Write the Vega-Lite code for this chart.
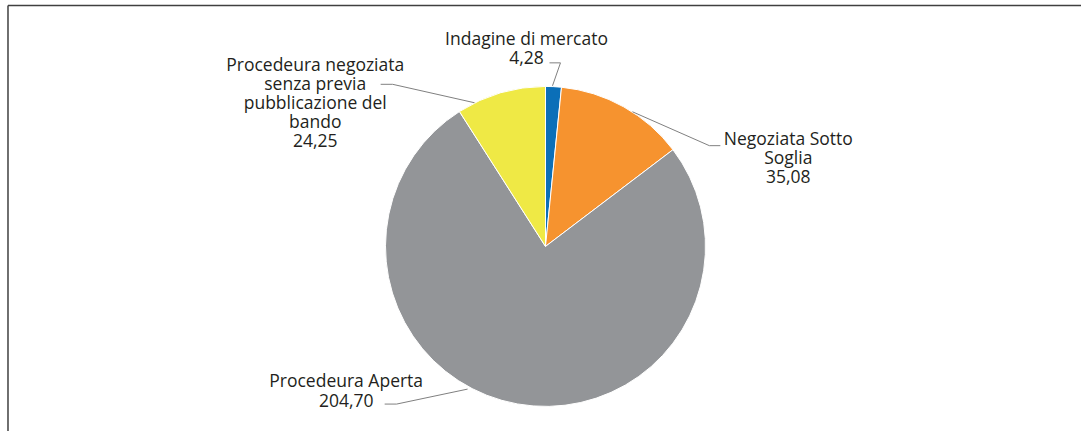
{
  "$schema": "https://vega.github.io/schema/vega-lite/v6.json",
  "autosize": {"type": "fit", "contains": "padding"},
  "width": 1082,
  "height": 432,
  "padding": 0,
  "background": "white",
  "config": {"view": {"stroke": null}},
  "data": {
    "values": [
      {"ordine": 1, "categoria": "Indagine di mercato", "valore": 4.28, "etichetta": "Indagine di mercato\n4,28"},
      {"ordine": 2, "categoria": "Negoziata Sotto Soglia", "valore": 35.08, "etichetta": "Negoziata Sotto\nSoglia\n35,08"},
      {"ordine": 3, "categoria": "Procedeura Aperta", "valore": 204.70, "etichetta": "Procedeura Aperta\n204,70"},
      {"ordine": 4, "categoria": "Procedeura negoziata senza previa pubblicazione del bando", "valore": 24.25, "etichetta": "Procedeura negoziata\nsenza previa\npubblicazione del\nbando\n24,25"}
    ]
  },
  "layer": [
    {
      "mark": {"type": "arc", "outerRadius": 160, "stroke": "white", "strokeWidth": 1},
      "encoding": {
        "x": {"datum": 0, "type": "quantitative", "scale": {"domain": [-3.4125, 3.35], "nice": false, "zero": false}, "axis": null},
        "y": {"datum": 0, "type": "quantitative", "scale": {"domain": [-1.15625, 1.54375], "nice": false, "zero": false}, "axis": null},
        "theta": {"field": "valore", "type": "quantitative", "stack": true},
        "order": {"field": "ordine", "type": "quantitative"},
        "color": {
          "field": "categoria", "type": "nominal", "legend": null,
          "scale": {
            "domain": ["Indagine di mercato", "Negoziata Sotto Soglia", "Procedeura Aperta", "Procedeura negoziata senza previa pubblicazione del bando"],
            "range": ["#0b6fb8", "#f6932f", "#939598", "#efe945"]
          }
        }
      }
    },
    {
      "transform": [{"filter": "datum.ordine == 1"}],
      "mark": {"type": "rule", "stroke": "#404040", "strokeWidth": 1.5},
      "encoding": {
        "x": {"datum": -3.3625, "type": "quantitative"},
        "x2": {"datum": 3.35},
        "y": {"datum": 1.509375, "type": "quantitative"}
      }
    },
    {
      "transform": [{"filter": "datum.ordine == 1"}],
      "mark": {"type": "rule", "stroke": "#404040", "strokeWidth": 1.5},
      "encoding": {
        "x": {"datum": -3.3625, "type": "quantitative"},
        "y": {"datum": 1.509375, "type": "quantitative"},
        "y2": {"datum": -1.15625}
      }
    },
    {
      "transform": [{"filter": "datum.ordine == 1"}],
      "mark": {"type": "rule", "stroke": "#808080", "strokeWidth": 1},
      "encoding": {
        "x": {"datum": 0.025, "type": "quantitative"}, "x2": {"datum": 0.09375},
        "y": {"datum": 1.15, "type": "quantitative"}, "y2": {"datum": 1.15}
      }
    },
    {
      "transform": [{"filter": "datum.ordine == 1"}],
      "mark": {"type": "rule", "stroke": "#808080", "strokeWidth": 1},
      "encoding": {
        "x": {"datum": 0.09375, "type": "quantitative"}, "x2": {"datum": 0.04375},
        "y": {"datum": 1.15, "type": "quantitative"}, "y2": {"datum": 1.00625}
      }
    },
    {
      "transform": [{"filter": "datum.ordine == 2"}],
      "mark": {"type": "rule", "stroke": "#808080", "strokeWidth": 1},
      "encoding": {
        "x": {"datum": 0.54375, "type": "quantitative"}, "x2": {"datum": 1.025},
        "y": {"datum": 0.84375, "type": "quantitative"}, "y2": {"datum": 0.63125}
      }
    },
    {
      "transform": [{"filter": "datum.ordine == 2"}],
      "mark": {"type": "rule", "stroke": "#808080", "strokeWidth": 1},
      "encoding": {
        "x": {"datum": 1.025, "type": "quantitative"}, "x2": {"datum": 1.09375},
        "y": {"datum": 0.63125, "type": "quantitative"}, "y2": {"datum": 0.63125}
      }
    },
    {
      "transform": [{"filter": "datum.ordine == 3"}],
      "mark": {"type": "rule", "stroke": "#808080", "strokeWidth": 1},
      "encoding": {
        "x": {"datum": -1.00625, "type": "quantitative"}, "x2": {"datum": -0.93125},
        "y": {"datum": -0.9875, "type": "quantitative"}, "y2": {"datum": -0.9875}
      }
    },
    {
      "transform": [{"filter": "datum.ordine == 3"}],
      "mark": {"type": "rule", "stroke": "#808080", "strokeWidth": 1},
      "encoding": {
        "x": {"datum": -0.93125, "type": "quantitative"}, "x2": {"datum": -0.4875},
        "y": {"datum": -0.9875, "type": "quantitative"}, "y2": {"datum": -0.89375}
      }
    },
    {
      "transform": [{"filter": "datum.ordine == 4"}],
      "mark": {"type": "rule", "stroke": "#808080", "strokeWidth": 1},
      "encoding": {
        "x": {"datum": -1.03125, "type": "quantitative"}, "x2": {"datum": -0.95625},
        "y": {"datum": 1.015625, "type": "quantitative"}, "y2": {"datum": 1.015625}
      }
    },
    {
      "transform": [{"filter": "datum.ordine == 4"}],
      "mark": {"type": "rule", "stroke": "#808080", "strokeWidth": 1},
      "encoding": {
        "x": {"datum": -0.95625, "type": "quantitative"}, "x2": {"datum": -0.44375},
        "y": {"datum": 1.015625, "type": "quantitative"}, "y2": {"datum": 0.9}
      }
    },
    {
      "transform": [{"filter": "datum.ordine == 1"}],
      "mark": {"type": "text", "align": "center", "baseline": "alphabetic", "lineBreak": "\n", "lineHeight": 19, "font": "Open Sans", "fontSize": 17.5, "fill": "#231f20"},
      "encoding": {
        "x": {"datum": -0.11875, "type": "quantitative"},
        "y": {"datum": 1.2625, "type": "quantitative"},
        "text": {"field": "etichetta", "type": "nominal"}
      }
    },
    {
      "transform": [{"filter": "datum.ordine == 2"}],
      "mark": {"type": "text", "align": "center", "baseline": "alphabetic", "lineBreak": "\n", "lineHeight": 19, "font": "Open Sans", "fontSize": 17.5, "fill": "#231f20"},
      "encoding": {
        "x": {"datum": 1.51875, "type": "quantitative"},
        "y": {"datum": 0.6356, "type": "quantitative"},
        "text": {"field": "etichetta", "type": "nominal"}
      }
    },
    {
      "transform": [{"filter": "datum.ordine == 3"}],
      "mark": {"type": "text", "align": "center", "baseline": "alphabetic", "lineBreak": "\n", "lineHeight": 19.5, "font": "Open Sans", "fontSize": 17.5, "fill": "#231f20"},
      "encoding": {
        "x": {"datum": -1.2469, "type": "quantitative"},
        "y": {"datum": -0.8831, "type": "quantitative"},
        "text": {"field": "etichetta", "type": "nominal"}
      }
    },
    {
      "transform": [{"filter": "datum.ordine == 4"}],
      "mark": {"type": "text", "align": "center", "baseline": "alphabetic", "lineBreak": "\n", "lineHeight": 19, "font": "Open Sans", "fontSize": 17.5, "fill": "#231f20"},
      "encoding": {
        "x": {"datum": -1.4406, "type": "quantitative"},
        "y": {"datum": 1.1019, "type": "quantitative"},
        "text": {"field": "etichetta", "type": "nominal"}
      }
    }
  ]
}
